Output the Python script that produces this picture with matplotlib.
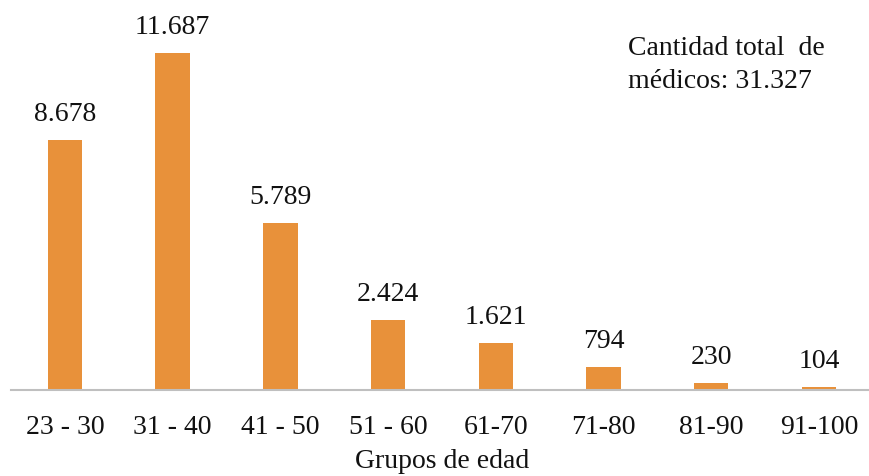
import matplotlib
matplotlib.use("Agg")
import matplotlib.pyplot as plt

categories = ["23 - 30", "31 - 40", "41 - 50", "51 - 60", "61-70", "71-80", "81-90", "91-100"]
values = [8678, 11687, 5789, 2424, 1621, 794, 230, 104]
value_labels = ["8.678", "11.687", "5.789", "2.424", "1.621", "794", "230", "104"]

plt.rcParams["font.family"] = ["Liberation Serif", "DejaVu Serif"]
FS = 20

fig = plt.figure(figsize=(8.69, 4.77), dpi=100)
ax = fig.add_axes([11.1 / 869, 1 - 391 / 477, 861.7 / 869, 371 / 477])

x = range(len(categories))
ax.bar(x, values, width=0.32, color="#E8913A", zorder=2)
ax.set_xlim(-0.5, len(categories) - 0.5)
ax.set_ylim(0, 12865)

for xi, v, lab in zip(x, values, value_labels):
    ax.annotate(lab, (xi, v), xytext=(0, 10), textcoords="offset points",
                ha="center", va="bottom", fontsize=FS, color="#111111")

for s in ["top", "right", "left"]:
    ax.spines[s].set_visible(False)
ax.spines["bottom"].set_color("#BFBFBF")
ax.spines["bottom"].set_linewidth(1.5)
ax.set_yticks([])
ax.set_xticks(list(x))
ax.set_xticklabels(categories, fontsize=FS, color="#111111")
ax.tick_params(axis="x", length=0, pad=17)
ax.set_xlabel("Grupos de edad", fontsize=FS, color="#111111", labelpad=7)

fig.text(628 / 869, 1 - 65 / 477, "Cantidad total  de\nmédicos: 31.327",
         fontsize=FS, color="#111111", ha="left", va="center", linespacing=1.45)

fig.savefig("out.png", dpi=100)
